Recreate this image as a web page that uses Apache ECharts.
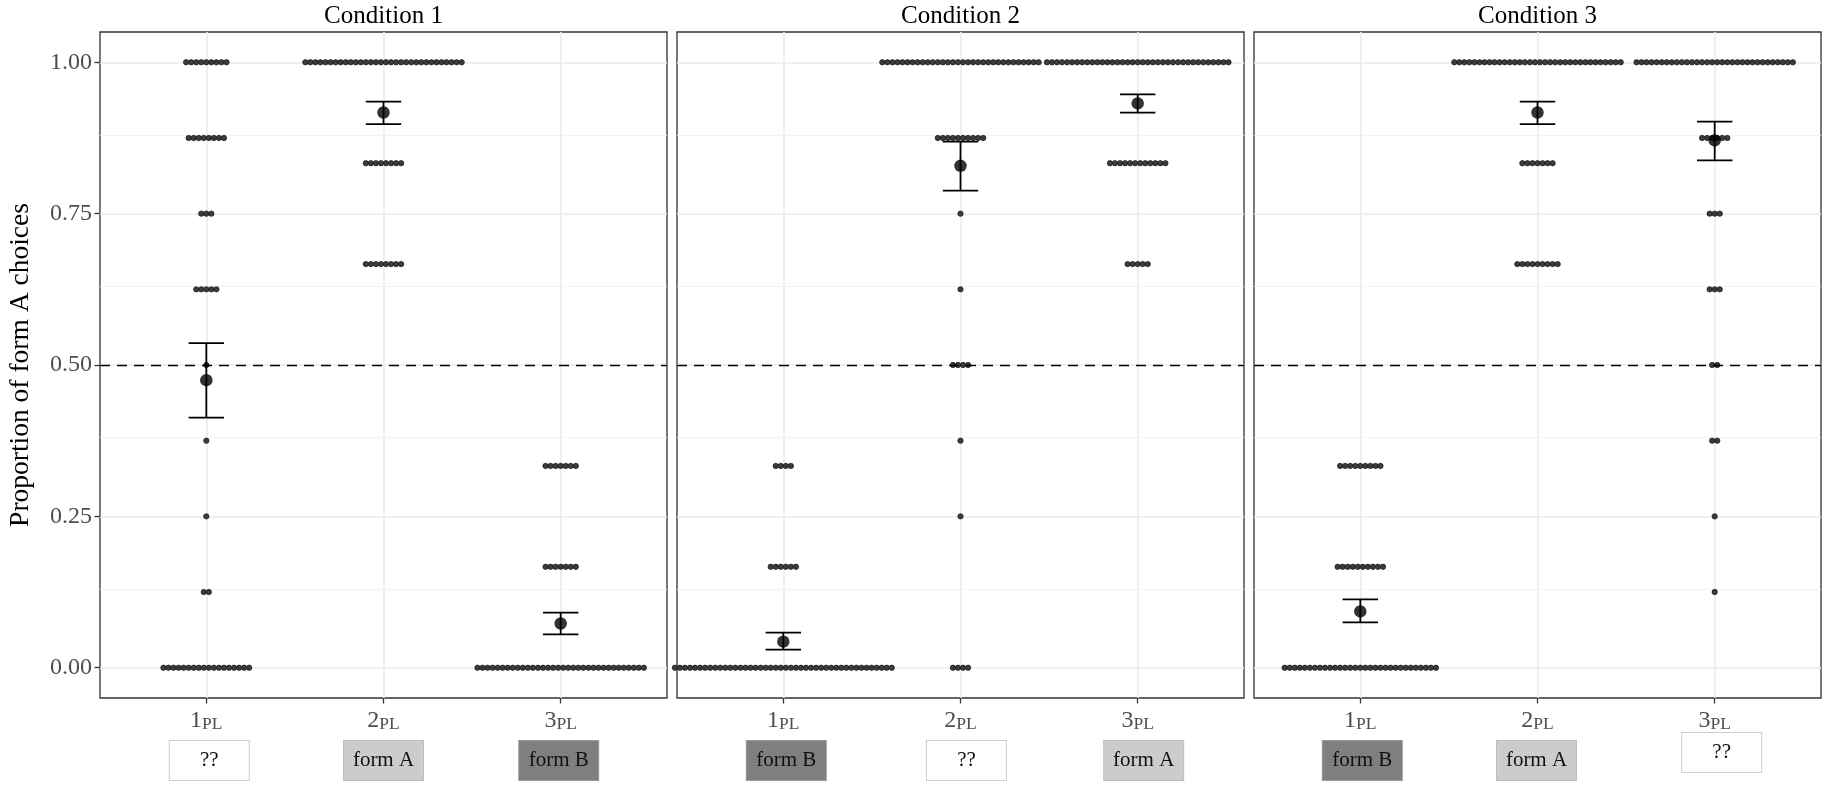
<!DOCTYPE html>
<html><head><meta charset="utf-8">
<script src="https://cdn.jsdelivr.net/npm/echarts@6/dist/echarts.min.js"></script>
<style>html,body{margin:0;padding:0;background:#fff}#chart{width:1830px;height:791px}</style>
</head><body><div id="chart"></div>
<script>
// ================= DATA =================
const conditions = ['Condition 1', 'Condition 2', 'Condition 3'];
const categories = ['1PL', '2PL', '3PL'];
const yTicks = [0, 0.25, 0.5, 0.75, 1];
const yMinorTicks = [0.125, 0.375, 0.625, 0.875];
const chanceLevel = 0.5;
const yTitle = 'Proportion of form A choices';

// participant proportions: [proportion of form A choices, number of participants]
const cond1_1PL = [[1, 9], [0.875, 8], [0.75, 3], [0.625, 5], [0.5, 1], [0.375, 1], [0.25, 1], [0.125, 2], [0, 18]];
const cond1_2PL = [[1, 32], [0.8333, 8], [0.6667, 8]];
const cond1_3PL = [[0.3333, 7], [0.1667, 7], [0, 34]];
const cond2_1PL = [[0.3333, 4], [0.1667, 6], [0, 44]];
const cond2_2PL = [[1, 32], [0.875, 10], [0.75, 1], [0.625, 1], [0.5, 4], [0.375, 1], [0.25, 1], [0, 4]];
const cond2_3PL = [[1, 37], [0.8333, 12], [0.6667, 5]];
const cond3_1PL = [[0.3333, 9], [0.1667, 10], [0, 31]];
const cond3_2PL = [[1, 34], [0.8333, 7], [0.6667, 9]];
const cond3_3PL = [[1, 32], [0.875, 6], [0.75, 3], [0.625, 3], [0.5, 2], [0.375, 2], [0.25, 1], [0.125, 1]];

// means and error bar limits (1PL, 2PL, 3PL)
const cond1Mean = [0.475, 0.917, 0.073];
const cond1Upper = [0.536, 0.935, 0.091];
const cond1Lower = [0.413, 0.898, 0.055];
const cond2Mean = [0.043, 0.829, 0.932];
const cond2Upper = [0.058, 0.869, 0.947];
const cond2Lower = [0.030, 0.788, 0.917];
const cond3Mean = [0.093, 0.917, 0.871];
const cond3Upper = [0.113, 0.935, 0.902];
const cond3Lower = [0.075, 0.898, 0.838];

// form labels shown under each category
const cond1Forms = ['??', 'form A', 'form B'];
const cond2Forms = ['form B', '??', 'form A'];
const cond3Forms = ['form B', 'form A', '??'];

// ================= ASSEMBLY =================
const panels = [
  { dots: [cond1_1PL, cond1_2PL, cond1_3PL], mean: cond1Mean, up: cond1Upper, lo: cond1Lower, forms: cond1Forms },
  { dots: [cond2_1PL, cond2_2PL, cond2_3PL], mean: cond2Mean, up: cond2Upper, lo: cond2Lower, forms: cond2Forms },
  { dots: [cond3_1PL, cond3_2PL, cond3_3PL], mean: cond3Mean, up: cond3Upper, lo: cond3Lower, forms: cond3Forms }
];

// ---- layout / style ----
const FONT = 'Liberation Serif';
const gridLefts = [100, 677, 1254];
const GRID_TOP = 32, GRID_W = 567, GRID_H = 666;
const DOT_BIN = 0.00833;      // dot pitch in y units
const CAP_WIDTH = 0.2;        // error-bar cap width in x units
const boxShift = [[3, 0, -2], [3, 6, 6], [2, -1, 7]];
const boxRaised = [[0, 0, 0], [0, 0, 0], [0, 0, 1]];
const boxStyleName = { '??': 'q', 'form A': 'a', 'form B': 'b' };

const boxBase = { width: 79, height: 39, lineHeight: 39, align: 'center', verticalAlign: 'middle',
  fontSize: 21, color: '#111', fontFamily: FONT, borderWidth: 1 };
const richBase = {
  n: { fontSize: 24, color: '#4D4D4D', fontFamily: FONT, lineHeight: 28, verticalAlign: 'bottom' },
  s: { fontSize: 17.5, color: '#4D4D4D', fontFamily: FONT, lineHeight: 24, verticalAlign: 'bottom' },
  sp: { fontSize: 2, lineHeight: 8 },
  q: Object.assign({}, boxBase, { backgroundColor: '#FFFFFF', borderColor: '#CFCFCF' }),
  a: Object.assign({}, boxBase, { backgroundColor: '#CCCCCC', borderColor: '#BDBDBD' }),
  b: Object.assign({}, boxBase, { backgroundColor: '#7F7F7F', borderColor: '#9A9A9A' })
};
for (let d = 1; d <= 8; d++) richBase['o' + d] = { width: 2 * d, fontSize: 2, lineHeight: 2 };

function renderDot(params, api) {
  const c = api.coord([api.value(0), api.value(1)]);
  const step = api.size([0, DOT_BIN])[1];
  const idx = api.value(2), n = api.value(3);
  return {
    type: 'circle',
    shape: { cx: c[0] + (idx - (n - 1) / 2) * step, cy: c[1], r: step * 0.53 },
    style: { fill: '#3c3c3c', stroke: '#151515', lineWidth: 0.7 }
  };
}
function renderErr(params, api) {
  const x = api.value(0);
  const lo = api.coord([x, api.value(1)]);
  const hi = api.coord([x, api.value(2)]);
  const hw = api.size([CAP_WIDTH, 0])[0] / 2;
  const st = { stroke: '#000', lineWidth: 1.8 };
  return { type: 'group', children: [
    { type: 'line', shape: { x1: lo[0], y1: lo[1], x2: hi[0], y2: hi[1] }, style: st },
    { type: 'line', shape: { x1: lo[0] - hw, y1: lo[1], x2: lo[0] + hw, y2: lo[1] }, style: st },
    { type: 'line', shape: { x1: hi[0] - hw, y1: hi[1], x2: hi[0] + hw, y2: hi[1] }, style: st }
  ]};
}

const grid = [], xAxis = [], yAxis = [], series = [];
const catX = categories.map((c, i) => i + 1);

panels.forEach((p, pi) => {
  grid.push({ left: gridLefts[pi], top: GRID_TOP, width: GRID_W, height: GRID_H, show: true,
    outerBoundsMode: 'none', containLabel: false,
    borderColor: '#333333', borderWidth: 1.3, backgroundColor: '#fff' });

  xAxis.push({
    type: 'value', gridIndex: pi, min: 0.4, max: 3.6, position: 'bottom',
    axisLine: { show: false, onZero: false },
    axisTick: { show: true, customValues: catX, length: 5.5, lineStyle: { color: '#333', width: 1.3 } },
    splitLine: { show: true, lineStyle: { color: '#EBEBEB', width: 1.6 } },
    axisLabel: {
      customValues: catX, margin: 7, rich: richBase,
      formatter: function (v) {
        const i = Math.round(v) - 1;
        const cat = categories[i];
        const form = p.forms[i];
        const sh = boxShift[pi][i];
        let boxLine = '{' + boxStyleName[form] + '|' + form + '}';
        if (sh > 0) boxLine = '{o' + sh + '| }' + boxLine;
        if (sh < 0) boxLine = boxLine + '{o' + (-sh) + '| }';
        const spacer = boxRaised[pi][i] ? '' : '{sp| }\n';
        return '{n|' + cat.charAt(0) + '}{s|' + cat.slice(1) + '}\n' + spacer + boxLine;
      }
    }
  });

  yAxis.push({
    type: 'value', gridIndex: pi, min: -0.05, max: 1.05,
    axisLine: { show: false, onZero: false },
    axisTick: { show: pi === 0, customValues: yTicks, length: 5.5, lineStyle: { color: '#333', width: 1.3 } },
    splitLine: { show: true, lineStyle: { color: '#EBEBEB', width: 1.6 } },
    axisLabel: { show: pi === 0, customValues: yTicks, margin: 8, fontSize: 24, color: '#4D4D4D', fontFamily: FONT,
      formatter: v => v.toFixed(2) },
    name: pi === 0 ? yTitle : '', nameLocation: 'middle', nameRotate: 90, nameGap: 65,
    nameTextStyle: { fontSize: 27.5, color: '#000', fontFamily: FONT }
  });

  // dots, one item per participant
  const dotData = [];
  p.dots.forEach((rows, ci) => {
    rows.forEach(([val, n]) => {
      for (let k = 0; k < n; k++) dotData.push([catX[ci], val, k, n]);
    });
  });
  series.push({
    type: 'custom', xAxisIndex: pi, yAxisIndex: pi, z: 3, silent: true,
    renderItem: renderDot, data: dotData,
    markLine: { silent: true, z: 1, symbol: ['none', 'none'], label: { show: false },
      lineStyle: { color: '#F0F0F0', width: 0.9, type: 'solid' },
      data: yMinorTicks.map(v => ({ yAxis: v })) }
  });
  series.push({
    type: 'custom', xAxisIndex: pi, yAxisIndex: pi, z: 9, silent: true,
    renderItem: renderErr, data: catX.map((x, i) => [x, p.lo[i], p.up[i]]),
    markLine: { silent: true, symbol: ['none', 'none'], label: { show: false },
      lineStyle: { color: '#000', width: 1.4, type: [10, 7] },
      data: [{ yAxis: chanceLevel }] }
  });
  series.push({
    type: 'scatter', xAxisIndex: pi, yAxisIndex: pi, z: 10, silent: true,
    symbol: 'circle', symbolSize: 12.5, itemStyle: { color: '#000' },
    data: catX.map((x, i) => [x, p.mean[i]])
  });
});

// facet titles on hidden top axes
panels.forEach((p, pi) => {
  xAxis.push({
    type: 'value', gridIndex: pi, position: 'top', min: 0.4, max: 3.6,
    axisLine: { show: false, onZero: false }, axisTick: { show: false }, axisLabel: { show: false }, splitLine: { show: false },
    name: conditions[pi], nameLocation: 'middle', nameGap: 3,
    nameTextStyle: { fontSize: 25, color: '#000', fontFamily: FONT }
  });
});

const chart = echarts.init(document.getElementById('chart'), null, { renderer: 'canvas' });
chart.setOption({
  animation: false,
  backgroundColor: '#fff',
  textStyle: { fontFamily: FONT },
  grid, xAxis, yAxis, series
});
</script>
</body></html>
